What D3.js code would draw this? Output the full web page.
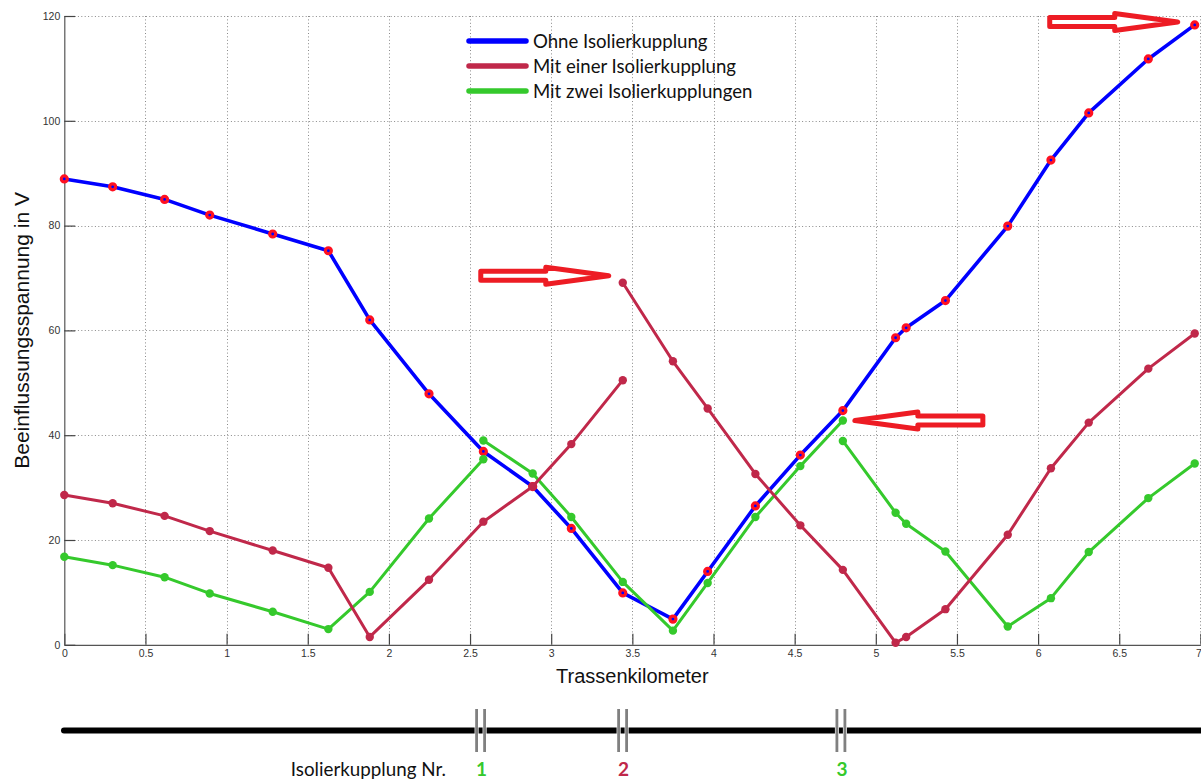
<!DOCTYPE html>
<html>
<head>
<meta charset="utf-8">
<script src="https://cdn.jsdelivr.net/npm/d3@7"></script>
<style>
  html, body { margin: 0; padding: 0; background: #fff; }
  svg { display: block; }
</style>
</head>
<body>
<svg id="chart" width="1201" height="779"></svg>
<script>
// Trassenkilometer der Messpunkte (gemeinsam für alle Kurven)
const trassenKm = [0, 0.298, 0.618, 0.896, 1.284, 1.627, 1.882, 2.247, 2.582, 2.886,
  3.124, 3.441, 3.750, 3.964, 4.258, 4.535, 4.797, 5.122, 5.187, 5.429,
  5.813, 6.079, 6.312, 6.679, 6.965];

// Beeinflussungsspannung in V ohne Isolierkupplung
const ohneIsolierkupplung = [88.9, 87.4, 85.0, 82.0, 78.4, 75.2, 62.0, 47.9, 36.9, 30.2,
  22.2, 9.9, 4.9, 14.0, 26.5, 36.2, 44.7, 58.6, 60.5, 65.7,
  79.9, 92.5, 101.5, 111.8, 118.3];

// Mit einer Isolierkupplung: Sprung an Kupplung 2 (Messpunkt 11)
const einerVorKupplung = [28.6, 27.0, 24.6, 21.7, 18.0, 14.7, 1.5, 12.4, 23.5, 30.2, 38.3, 50.5];
const einerNachKupplung = [69.1, 54.1, 45.1, 32.6, 22.8, 14.3, 0.4, 1.5, 6.8, 21.0, 33.7, 42.4, 52.7, 59.4];

// Mit zwei Isolierkupplungen: Sprünge an Kupplung 1 (Messpunkt 8) und 3 (Messpunkt 16)
const zweiAbschnitt1 = [16.8, 15.2, 12.9, 9.8, 6.3, 3.0, 10.1, 24.1, 35.4];
const zweiAbschnitt2 = [39.0, 32.7, 24.4, 12.0, 2.7, 11.8, 24.4, 34.1, 42.8];
const zweiAbschnitt3 = [38.9, 25.2, 23.1, 17.8, 3.5, 8.9, 17.7, 28.0, 34.6];

// Lage der Isolierkupplungen auf der Trasse
const kupplungKm = [2.565, 3.44, 4.785];
const kupplungNr = ["1", "2", "3"];

const xTicks = [0, 0.5, 1, 1.5, 2, 2.5, 3, 3.5, 4, 4.5, 5, 5.5, 6, 6.5, 7];
const yTicks = [0, 20, 40, 60, 80, 100, 120];

const legendLabels = ["Ohne Isolierkupplung", "Mit einer Isolierkupplung", "Mit zwei Isolierkupplungen"];

// ---------------------------------------------------------------
const BLUE = "#0000ff", CRIMSON = "#c0284a", GREEN = "#35c92c", ARROW = "#ed1c24";
const kupplungFarben = [GREEN, CRIMSON, GREEN];

const svg = d3.select("#chart");
const x = d3.scaleLinear().domain([0, 7]).range([64.3, 1200.4]);
const y = d3.scaleLinear().domain([0, 120]).range([644.8, 16]);

const toPoints = (werte, start) => werte.map((v, i) => [trassenKm[start + i], v]);

const serien = [
  { farbe: BLUE, breite: 3.6, teile: [toPoints(ohneIsolierkupplung, 0)], typ: "ring" },
  { farbe: GREEN, breite: 3, teile: [toPoints(zweiAbschnitt1, 0), toPoints(zweiAbschnitt2, 8), toPoints(zweiAbschnitt3, 16)], typ: "dot" },
  { farbe: CRIMSON, breite: 3, teile: [toPoints(einerVorKupplung, 0), toPoints(einerNachKupplung, 11)], typ: "dot" }
];

// Gitterlinien
const grid = svg.append("g").attr("stroke", "#8a8a8a").attr("stroke-width", 1)
  .attr("stroke-dasharray", "1,2.4");
grid.selectAll("line.v").data(xTicks.filter(t => t > 0)).join("line")
  .attr("x1", d => Math.round(x(d)) + 0.5).attr("x2", d => Math.round(x(d)) + 0.5)
  .attr("y1", y(120)).attr("y2", y(0));
grid.selectAll("line.h").data(yTicks.filter(t => t > 0)).join("line")
  .attr("x1", x(0)).attr("x2", x(7))
  .attr("y1", d => Math.round(y(d)) + 0.5).attr("y2", d => Math.round(y(d)) + 0.5);

// Achsen
const xAxis = d3.axisBottom(x).tickValues(xTicks).tickSizeInner(-11).tickSizeOuter(0).tickPadding(5)
  .tickFormat(d => String(d));
const yAxis = d3.axisLeft(y).tickValues(yTicks).tickSizeInner(-11).tickSizeOuter(0).tickPadding(4)
  .tickFormat(d => String(d));

function styleAxis(g) {
  g.select(".domain").attr("stroke", "#555").attr("stroke-width", 1.2);
  g.selectAll(".tick line").attr("stroke", "#444").attr("stroke-width", 1.2);
  g.selectAll(".tick text").attr("fill", "#333").attr("font-size", 10.5)
    .attr("font-family", "'Liberation Sans', Arial, sans-serif");
}
const gx = svg.append("g").attr("transform", `translate(0,${y(0)})`).call(xAxis).call(styleAxis);
// letzte Beschriftung am rechten Rand bündig setzen
gx.selectAll(".tick text").filter(d => d === 7).attr("text-anchor", "end").attr("dx", 1);
svg.append("g").attr("transform", `translate(${x(0)},0)`).call(yAxis).call(styleAxis);

// Achsentitel
svg.append("text").attr("x", (x(0) + x(7)) / 2).attr("y", 683)
  .attr("text-anchor", "middle").attr("font-size", 20).attr("fill", "#111")
  .attr("font-family", "'Liberation Sans', Arial, sans-serif").text("Trassenkilometer");
svg.append("text").attr("transform", `translate(29,${(y(0) + y(120)) / 2}) rotate(-90)`)
  .attr("text-anchor", "middle").attr("font-size", 21).attr("fill", "#111")
  .attr("font-family", "'Liberation Sans', Arial, sans-serif").text("Beeinflussungsspannung in V");

// Kurven
const line = d3.line().x(d => x(d[0])).y(d => y(d[1]));
serien.forEach(s => {
  const g = svg.append("g");
  s.teile.forEach(pts => {
    g.append("path").attr("d", line(pts)).attr("fill", "none")
      .attr("stroke", s.farbe).attr("stroke-width", s.breite)
      .attr("stroke-linejoin", "round").attr("stroke-linecap", "round");
  });
  const alle = s.teile.flat();
  if (s.typ === "ring") {
    g.selectAll("circle").data(alle).join("circle")
      .attr("cx", d => x(d[0])).attr("cy", d => y(d[1])).attr("r", 3)
      .attr("fill", BLUE).attr("stroke", "#ff1020").attr("stroke-width", 3.2);
  } else {
    g.selectAll("circle").data(alle).join("circle")
      .attr("cx", d => x(d[0])).attr("cy", d => y(d[1])).attr("r", 4.2)
      .attr("fill", s.farbe);
  }
});

// Legende
const legend = svg.append("g");
const legendFarben = [BLUE, CRIMSON, GREEN];
const legendY = [41, 66, 91];
legendLabels.forEach((t, i) => {
  legend.append("line").attr("x1", 469).attr("x2", 526)
    .attr("y1", legendY[i]).attr("y2", legendY[i])
    .attr("stroke", legendFarben[i]).attr("stroke-width", 5.5).attr("stroke-linecap", "round");
  legend.append("text").attr("x", 533).attr("y", legendY[i]).attr("dy", "0.36em")
    .attr("font-size", 18.6).attr("fill", "#111")
    .attr("font-family", "Lato, 'Open Sans', sans-serif").text(t);
});

// Hinweis-Pfeile auf markante Messwerte
function pfeil(px, py, richtung) {
  const L = 128, H = 63, kopf = 8.5, schaft = 4.5;
  const pts = [[0, 0], [-H, -kopf], [-H, -schaft], [-L, -schaft], [-L, schaft], [-H, schaft], [-H, kopf]]
    .map(([a, b]) => [px + richtung * a, py + b]);
  svg.append("path").attr("d", "M" + pts.join("L") + "Z")
    .attr("fill", "#fff").attr("stroke", ARROW).attr("stroke-width", 5)
    .attr("stroke-linejoin", "round");
}
pfeil(x(trassenKm[24]) - 17, y(ohneIsolierkupplung[24]) - 3, 1);
pfeil(x(trassenKm[11]) - 14, y(einerNachKupplung[0]) - 7, 1);
pfeil(x(trassenKm[16]) + 12, y(zweiAbschnitt2[8]), -1);

// Trasse mit Isolierkupplungen
const trasse = svg.append("g");
trasse.append("line").attr("x1", 64).attr("x2", 1215).attr("y1", 730.5).attr("y2", 730.5)
  .attr("stroke", "#000").attr("stroke-width", 6).attr("stroke-linecap", "round");
kupplungKm.forEach((k, i) => {
  const cx = x(k);
  [-4, 4].forEach(o => {
    trasse.append("rect").attr("x", cx + o - 2).attr("y", 709).attr("width", 4).attr("height", 43)
      .attr("fill", "#fff");
    trasse.append("rect").attr("x", cx + o - 1.4).attr("y", 709).attr("width", 2.8).attr("height", 43)
      .attr("fill", "#808080");
  });
  trasse.append("text").attr("x", cx + 1).attr("y", 769).attr("dy", "0.36em")
    .attr("text-anchor", "middle").attr("font-size", 19).attr("font-weight", "bold")
    .attr("fill", kupplungFarben[i]).attr("font-family", "Lato, 'Open Sans', sans-serif")
    .text(kupplungNr[i]);
});
trasse.append("text").attr("x", 446).attr("y", 769).attr("dy", "0.36em")
  .attr("text-anchor", "end").attr("font-size", 18.8).attr("fill", "#111")
  .attr("font-family", "Lato, 'Open Sans', sans-serif").text("Isolierkupplung Nr.");
</script>
</body>
</html>
